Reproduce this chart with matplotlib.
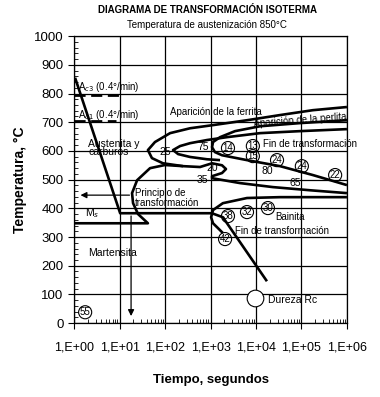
import numpy as np
import matplotlib
matplotlib.use("Agg")
import matplotlib.pyplot as plt
from matplotlib.ticker import FixedLocator, FixedFormatter, MultipleLocator, LogLocator, NullFormatter

plt.rcParams['font.family'] = ['Liberation Sans', 'DejaVu Sans']

# --- datos de las curvas (tiempo en s, temperatura en °C) ---
enfriamiento_t = [1.05, 10.3, 1070, 1870, 17400]
enfriamiento_T = [855, 383, 383, 369, 146]

# Ms + principio de transformación (rama baja)
ms_t = [1.0, 42, 25.5, 19.8, 18.8, 24.3, 46.8, 100, 248]
ms_T = [348, 348, 380, 418, 453, 498, 540, 551, 547]

# aparición de la ferrita (curva exterior) + gancho "20" + curva "35"
ferrita_t = [1e6, 178000, 33800, 6340, 1135, 355, 129, 60, 42, 51.5, 90, 248, 588,
             1080, 1790, 2190, 1790, 1080, 1080, 4450, 23600, 154000, 1e6]
ferrita_T = [753, 742, 725, 707, 690, 679, 662, 631, 603, 575, 557, 547, 544,
             557, 550, 537, 523, 512, 505, 488, 474, 463, 453]

# curva "25"
c25_t = [1e6, 93000, 12300, 2300, 835, 355, 214, 150, 194, 355, 835, 1620]
c25_T = [676, 669, 662, 648, 638, 627, 617, 603, 589, 579, 571, 568]

# curva "75" / fin de transformación
fin_t = [1e6, 93000, 12300, 3460, 1620, 1135, 1080, 1250, 1790, 6340, 33800, 178000, 1e6]
fin_T = [707, 697, 686, 669, 648, 631, 613, 596, 585, 568, 547, 516, 481]

# bainita
bainita_t = [1e6, 33800, 6340, 1870, 1135, 1030, 1135, 1460, 1870]
bainita_T = [439, 439, 436, 418, 394, 369, 348, 331, 314]

ac3_T = 795
ac1_T = 705

# durezas (Rc) en círculos
dureza_txt = ['14', '13', '15', '24', '24', '22', '38', '32', '30', '42', '55']
dureza_t = [2420, 8530, 8530, 29000, 102000, 550000, 2420, 6340, 18300, 2090, 1.75]
dureza_T = [610, 617, 582, 568, 547, 516, 373, 387, 401, 293, 38]

# porcentajes
pct_txt = ['25', '75', '20', '35', '80', '65']
pct_t = [100, 684, 1080, 650, 17400, 72000]
pct_T = [596, 613, 540, 498, 530, 488]

xticks = [1, 10, 100, 1e3, 1e4, 1e5, 1e6]
xlabels = ['1,E+00', '1,E+01', '1,E+02', '1,E+03', '1,E+04', '1,E+05', '1,E+06']

fig = plt.figure(figsize=(3.8, 3.97), dpi=100)
ax = fig.add_axes([0.195, 0.186, 0.718, 0.723])
ax.set_xscale('log')
ax.set_xlim(1, 1e6)
ax.set_ylim(0, 1000)

ax.xaxis.set_major_locator(FixedLocator(xticks))
ax.xaxis.set_major_formatter(FixedFormatter(xlabels))
ax.xaxis.set_minor_locator(LogLocator(base=10, subs=np.arange(2, 10)))
ax.xaxis.set_minor_formatter(NullFormatter())
ax.yaxis.set_major_locator(MultipleLocator(100))
ax.yaxis.set_minor_locator(MultipleLocator(20))
ax.grid(True, which='major', color='black', lw=0.9)
ax.tick_params(which='major', direction='out', length=4, width=0.8, labelsize=9.5)
ax.tick_params(axis='x', which='major', pad=9, labelsize=9)
ax.tick_params(which='minor', direction='in', length=3, width=0.6)
for s in ax.spines.values():
    s.set_linewidth(0.9)

kw = dict(color='black', lw=1.9, solid_capstyle='butt')
ax.plot(enfriamiento_t, enfriamiento_T, **kw)
ax.plot(ms_t, ms_T, **kw)
ax.plot(ferrita_t, ferrita_T, **kw)
ax.plot(c25_t, c25_T, **kw)
ax.plot(fin_t, fin_T, **kw)
ax.plot(bainita_t, bainita_T, **kw)
ax.plot([1, 10], [ac3_T, ac3_T], color='black', lw=2, dashes=(4, 2))
ax.plot([1, 8.5], [ac1_T, ac1_T], color='black', lw=2, dashes=(4, 2))

ax.annotate('', xy=(1.2, 446), xytext=(19, 446),
            arrowprops=dict(arrowstyle='-|>', color='black', lw=0.9, mutation_scale=9))
ax.annotate('', xy=(17.9, 15), xytext=(17.9, 383),
            arrowprops=dict(arrowstyle='-|>', color='black', lw=0.9, mutation_scale=9))

fs = 7
ax.text(1.22, 822, 'A$_{c3}$ (0.4°/min)', fontsize=fs, va='center')
ax.text(1.22, 725, 'A$_{c1}$ (0.4°/min)', fontsize=fs, va='center')
ax.text(129, 735, 'Aparición de la ferrita', fontsize=fs, va='center')
ax.text(93000, 707, 'Aparición de la perlita', fontsize=fs, va='center', ha='center', rotation=4.5)
ax.text(14200, 624, 'Fin de transformación', fontsize=fs, va='center')
ax.text(2.03, 610, 'Austenita y\ncarburos', fontsize=fs + 0.5, va='center', linespacing=0.85)
ax.text(21.9, 436, 'Principio de\ntransformación', fontsize=fs, va='center', linespacing=1.1)
ax.text(1.75, 383, 'M$_s$', fontsize=fs + 0.5, va='center')
ax.text(2.03, 244, 'Martensita', fontsize=fs + 0.5, va='center')
ax.text(26000, 369, 'Bainita', fontsize=fs, va='center')
ax.text(3460, 320, 'Fin de transformación', fontsize=fs, va='center')
ax.text(18300, 80, 'Dureza Rc', fontsize=fs + 0.5, va='center')
ax.plot([9500], [87], marker='o', ms=12, mfc='white', mec='black', mew=0.8)

for s, t, T in zip(pct_txt, pct_t, pct_T):
    ax.text(t, T, s, fontsize=fs + 0.5, ha='center', va='center')
for s, t, T in zip(dureza_txt, dureza_t, dureza_T):
    ax.text(t, T, s, fontsize=fs, ha='center', va='center',
            bbox=dict(boxstyle='circle,pad=0.12', fc='none', ec='black', lw=0.8))

fig.text(0.545, 0.975, 'DIAGRAMA DE TRANSFORMACIÓN ISOTERMA', fontsize=7, ha='center',
         va='center', weight='bold')
fig.text(0.545, 0.937, 'Temperatura de austenización 850°C', fontsize=7, ha='center', va='center')
fig.text(0.053, 0.547, 'Temperatura, °C', fontsize=10, rotation=90, ha='center', va='center',
         weight='bold')
fig.text(0.555, 0.043, 'Tiempo, segundos', fontsize=9.5, ha='center', va='center', weight='bold')

fig.savefig('out.png', dpi=100)
